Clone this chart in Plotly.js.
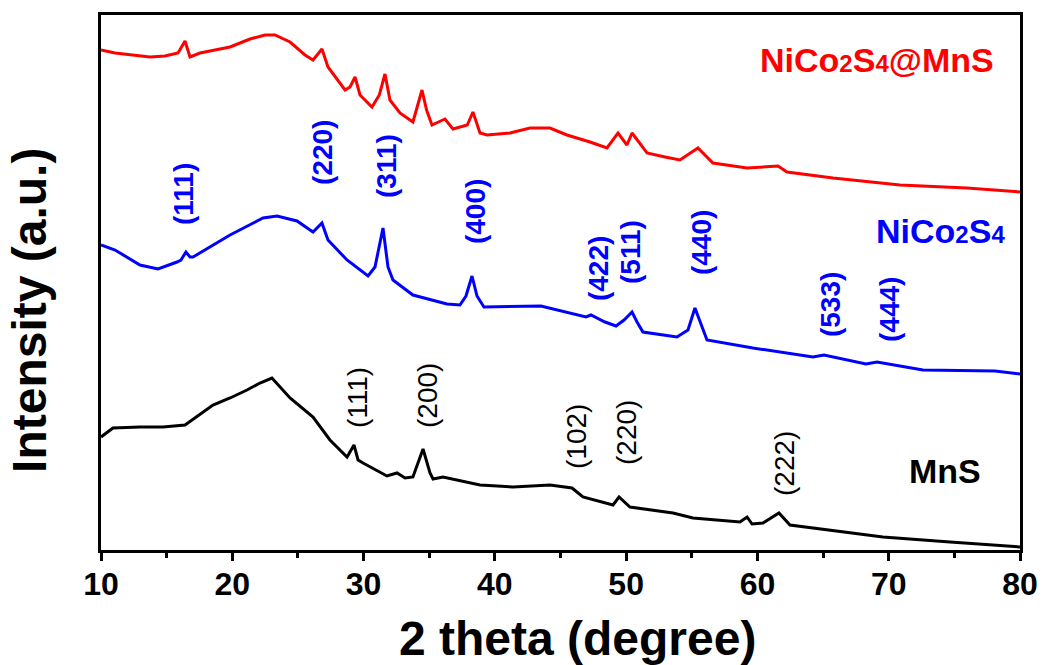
<!DOCTYPE html>
<html>
<head>
<meta charset="utf-8">
<script src="https://cdn.plot.ly/plotly-3.0.1.min.js"></script>
<style>
html,body{margin:0;padding:0;background:#fff;}
#chart{width:1043px;height:665px;}
</style>
</head>
<body>
<div id="chart"></div>
<script>
// ---- data (2 theta in degrees, intensity in arbitrary stacked units) ----
const nicoMnsTheta = [10.00,11.07,13.73,14.87,15.87,16.40,16.78,17.54,19.83,21.35,22.49,23.25,24.40,25.54,26.15,26.83,27.29,28.59,28.97,29.35,29.73,30.64,31.20,31.63,32.01,32.77,33.76,34.10,34.45,34.80,35.21,36.20,36.81,37.90,38.33,38.87,39.40,41.15,42.68,44.20,45.49,47.25,48.54,49.38,50.06,50.45,51.59,52.96,54.10,55.47,56.61,59.21,60.73,61.57,62.25,65.76,70.86,75.96,80.00];
const nicoMnsInt   = [500,497,493,494,497,509,493,497,503,511,515,515,508,495,490,501,483,460,463,473,455,443,455,476,450,437,428,445,460,440,425,431,421,425,438,417,415,417,422,422,415,408,402,417,405,417,397,393,390,402,387,382,383,384,378,372,365,362,358];

const nicoTheta = [10.00,11.07,12.97,14.34,15.79,16.09,16.47,16.78,17.01,18.30,19.83,22.34,23.41,24.93,26.15,26.83,27.29,28.74,30.34,30.87,31.48,31.86,32.24,33.76,36.35,37.34,37.80,38.26,38.64,39.17,43.51,46.94,47.32,48.39,49.23,49.84,50.45,50.83,51.28,53.87,54.71,55.24,55.62,56.16,59.66,64.23,65.07,68.27,69.11,72.61,78.10,80.00];
const nicoInt   = [305,300,285,281,288,290,298,293,293,303,315,332,334,329,318,327,310,290,274,283,322,283,270,255,246,245,254,274,254,243,244,233,235,228,224,230,238,228,218,213,220,242,228,210,202,193,195,186,188,180,179,176];

const mnsTheta = [10.00,10.91,12.97,14.72,16.40,18.53,19.83,21.12,22.11,23.02,24.40,26.15,27.44,28.74,29.27,29.58,29.96,31.78,32.55,33.16,33.76,34.53,35.06,35.29,36.05,38.87,41.38,43.44,44.20,45.88,46.71,49.00,49.46,50.29,53.57,55.09,58.67,59.21,59.59,60.42,61.64,62.48,67.05,69.56,74.67,80.00];
const mnsInt   = [113,122,123,123,125,145,152,160,167,172,152,133,110,93,105,90,87,74,77,72,73,101,77,71,73,65,63,65,65,62,53,45,53,43,37,32,28,33,26,27,37,25,17,13,8,3];

// peak index labels
const nicoPeakLabels = ['(111)','(220)','(311)','(400)','(422)','(511)','(440)','(533)','(444)'];
const nicoPeakTheta  = [16.25,26.83,31.71,38.49,47.86,50.29,55.70,65.53,70.02];
const nicoPeakLevel  = [356,398,384,338,281,298,308,245,241];

const mnsPeakLabels = ['(111)','(200)','(102)','(220)','(222)'];
const mnsPeakTheta  = [29.50,34.83,46.18,49.99,62.02];
const mnsPeakLevel  = [152,155,114,117,87];

const sampleNames = ['NiCo<span style="font-size:24px">2</span>S<span style="font-size:24px">4</span>@MnS',
                     'NiCo<span style="font-size:24px">2</span>S<span style="font-size:24px">4</span>',
                     'MnS'];
const sampleTheta = [69.14,73.91,74.29];
const sampleLevel = [490,319,79];

const tickVals = [10,20,30,40,50,60,70,80];

// ---- styling ----
const FONT = 'Liberation Sans, Arial, Helvetica, sans-serif';
const RED = '#ff0000', BLUE = '#0000ff', BLACK = '#000000';

const traces = [
  {x: nicoMnsTheta, y: nicoMnsInt, mode:'lines', line:{color:RED, width:3}, name:'NiCo2S4@MnS'},
  {x: nicoTheta, y: nicoInt, mode:'lines', line:{color:BLUE, width:3}, name:'NiCo2S4'},
  {x: mnsTheta, y: mnsInt, mode:'lines', line:{color:BLACK, width:3}, name:'MnS'}
];

const annotations = [];
nicoPeakLabels.forEach((t,i)=>annotations.push({
  x: nicoPeakTheta[i], y: nicoPeakLevel[i], xref:'x', yref:'y', text:t, showarrow:false,
  textangle:-90, xanchor:'center', yanchor:'middle',
  font:{family:FONT, size:28, color:BLUE, weight:'bold'}
}));
mnsPeakLabels.forEach((t,i)=>annotations.push({
  x: mnsPeakTheta[i], y: mnsPeakLevel[i], xref:'x', yref:'y', text:t, showarrow:false,
  textangle:-90, xanchor:'center', yanchor:'middle',
  font:{family:FONT, size:28, color:BLACK}
}));
const sampleColors = [RED, BLUE, BLACK];
sampleNames.forEach((t,i)=>annotations.push({
  x: sampleTheta[i], y: sampleLevel[i], xref:'x', yref:'y', text:t, showarrow:false,
  xanchor:'center', yanchor:'middle',
  font:{family:FONT, size:34, color:sampleColors[i], weight:'bold'}
}));
// axis titles
annotations.push({
  x:0.518, y:-0.1654, xref:'paper', yref:'paper', text:'2 theta (degree)', showarrow:false,
  xanchor:'center', yanchor:'middle', font:{family:FONT, size:48, color:BLACK, weight:'bold'}
});
annotations.push({
  x:-0.0773, y:0.4486, xref:'paper', yref:'paper', text:'Intensity (a.u.)', showarrow:false,
  textangle:-90, xanchor:'center', yanchor:'middle', font:{family:FONT, size:48, color:BLACK, weight:'bold'}
});

const layout = {
  width:1043, height:665,
  margin:{l:101, r:23, t:15, b:115, pad:0},
  paper_bgcolor:'#ffffff', plot_bgcolor:'#ffffff',
  showlegend:false,
  xaxis:{
    range:[10,80], tickvals:tickVals, ticktext:tickVals.map(String),
    ticks:'outside', ticklen:8, tickwidth:3, tickcolor:BLACK,
    ticklabelstandoff:-4,
    minor:{dtick:5, ticks:'outside', ticklen:5, tickwidth:3, tickcolor:BLACK},
    showline:true, linewidth:3, linecolor:BLACK, mirror:true,
    showgrid:false, zeroline:false,
    tickfont:{family:FONT, size:32, color:BLACK, weight:'bold'}
  },
  yaxis:{
    range:[0,535], showticklabels:false, ticks:'',
    showline:true, linewidth:3, linecolor:BLACK, mirror:true,
    showgrid:false, zeroline:false
  },
  annotations: annotations
};

Plotly.newPlot('chart', traces, layout, {displayModeBar:false, staticPlot:true});
</script>
</body>
</html>
